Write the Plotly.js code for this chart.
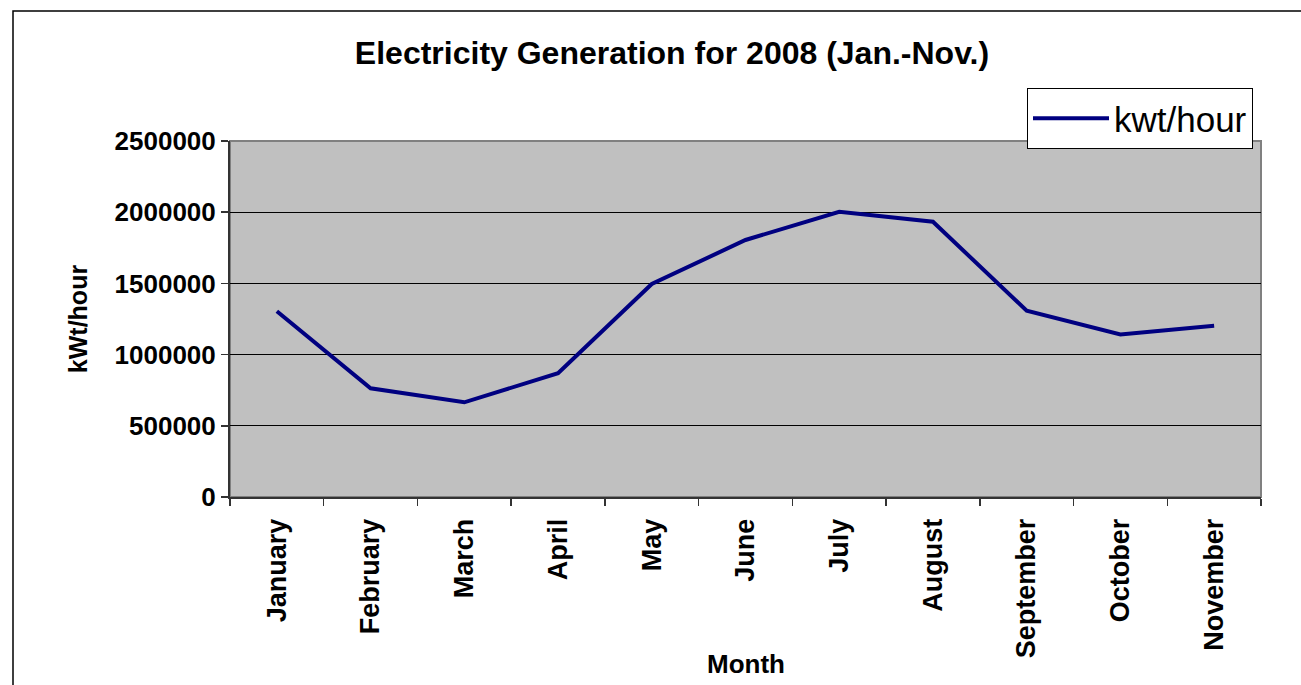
<!DOCTYPE html>
<html>
<head>
<meta charset="utf-8">
<script src="https://cdn.plot.ly/plotly-3.0.1.min.js"></script>
<style>html,body{margin:0;padding:0;background:#fff;}#chart{width:1301px;height:685px;}</style>
</head>
<body>
<div id="chart"></div>
<script>
const months = ["January","February","March","April","May","June","July","August","September","October","November"];
const generation = [1305000, 763000, 665000, 869000, 1496000, 1805000, 2003000, 1933000, 1308000, 1142000, 1203000];
const seriesName = "kwt/hour";
const chartTitle = "Electricity Generation for 2008 (Jan.-Nov.)";
const xTitle = "Month";
const yTitle = "kWt/hour";

const W = 1301, H = 685;
const L = 230, R = 40, T = 141, B = 188;
const pw = W - L - R, ph = H - T - B;
const px = v => (v - L) / pw;
const py = v => (H - B - v) / ph;

const font = {family: "Liberation Sans, Arial, sans-serif", color: "#000"};

const trace = {
  x: months, y: generation, type: "scatter", mode: "lines", name: seriesName,
  line: {color: "#000080", width: 4}
};

const layout = {
  width: W, height: H,
  margin: {l: L, r: R, t: T, b: B},
  paper_bgcolor: "#fff",
  plot_bgcolor: "#C0C0C0",
  font: font,
  title: {text: chartTitle, font: Object.assign({}, font, {size: 32, weight: "bold"}),
          xref: "container", yref: "container", x: 672/W, y: 1 - 53/H, xanchor: "center", yanchor: "middle"},
  showlegend: true,
  legend: {x: px(1027), y: py(88), xanchor: "left", yanchor: "top", bgcolor: "#fff",
           bordercolor: "#000", borderwidth: 1, itemwidth: 76,
           font: Object.assign({}, font, {size: 35})},
  xaxis: {
    type: "category", range: [-0.5, 10.5], tickson: "boundaries",
    ticks: "outside", ticklen: 7, tickcolor: "#333", tickwidth: 1.5,
    tickangle: -90, ticklabelstandoff: 9,
    tickfont: Object.assign({}, font, {size: 27, weight: "bold"}),
    showline: true, linecolor: "#333", linewidth: 2, showgrid: false, zeroline: false,
    fixedrange: true
  },
  yaxis: {
    range: [0, 2500000], dtick: 500000, tick0: 0, tickformat: "d",
    ticks: "outside", ticklen: 7, tickcolor: "#333", tickwidth: 1.5,
    tickfont: Object.assign({}, font, {size: 26, weight: "bold"}),
    showline: true, linecolor: "#333", linewidth: 2,
    showgrid: true, gridcolor: "#000", gridwidth: 1, zeroline: false,
    title: {text: yTitle, font: Object.assign({}, font, {size: 25, weight: "bold"}), standoff: 20},
    fixedrange: true
  },
  annotations: [{
    text: xTitle, xref: "paper", yref: "paper", x: px(746), y: py(664),
    xanchor: "center", yanchor: "middle", showarrow: false,
    font: Object.assign({}, font, {size: 26, weight: "bold"})
  }],
  shapes: [
    {type: "rect", xref: "paper", yref: "paper", x0: 0, x1: 1, y0: 0, y1: 1,
     line: {color: "#808080", width: 2}, layer: "below"},
    {type: "rect", xref: "paper", yref: "paper", x0: px(13), x1: px(1320), y0: py(11), y1: py(705),
     line: {color: "#000", width: 1.5}}
  ]
};

Plotly.newPlot("chart", [trace], layout, {displayModeBar: false, staticPlot: true});
</script>
</body>
</html>
